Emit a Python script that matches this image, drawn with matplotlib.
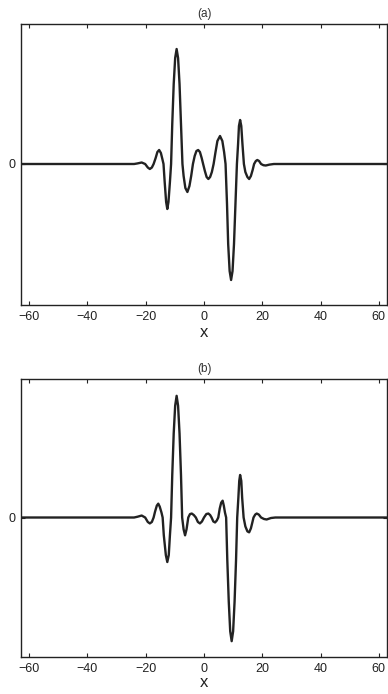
import numpy as np
import matplotlib.pyplot as plt

plt.rcParams['font.family'] = ['Liberation Sans', 'DejaVu Sans']

# ---- data (y in arbitrary units, 0 = baseline) ----
x_a = [-62.83, -24.0, -22.8, -21.4, -20.2, -19.3, -18.6, -17.9, -17.3, -16.6,
       -16.0, -15.4, -14.8, -14.3, -13.9, -13.5, -13.0, -12.6, -12.2, -11.7,
       -11.3, -10.9, -10.4, -9.9, -9.4, -8.9, -8.4, -7.9, -7.4, -7.0,
       -6.4, -5.7, -5.0, -4.4, -3.8, -3.2, -2.6, -2.0, -1.4, -0.8,
       -0.3, 0.3, 0.9, 1.5, 2.1, 2.7, 3.3, 3.9, 4.6, 5.5,
       6.3, 6.9, 7.4, 7.9, 8.3, 8.8, 9.3, 9.8, 10.3, 10.8,
       11.3, 11.7, 12.0, 12.4, 12.8, 13.2, 13.7, 14.2, 14.9, 15.5,
       16.1, 16.7, 17.2, 17.8, 18.3, 18.9, 19.6, 20.4, 21.2, 22.5,
       24.0, 62.83]
y_a = [0.0, 0.0, 0.006, 0.015, 0.0, -0.035, -0.05, -0.035, 0.0, 0.06,
       0.12, 0.14, 0.11, 0.05, 0.0, -0.18, -0.38, -0.45, -0.38, -0.18,
       0.0, 0.40, 0.80, 1.06, 1.15, 1.06, 0.80, 0.40, 0.0, -0.12,
       -0.24, -0.28, -0.22, -0.12, 0.0, 0.08, 0.13, 0.14, 0.12, 0.06,
       0.0, -0.07, -0.13, -0.15, -0.13, -0.08, 0.0, 0.11, 0.23, 0.28,
       0.23, 0.12, 0.0, -0.40, -0.80, -1.07, -1.16, -1.07, -0.80, -0.40,
       0.0, 0.20, 0.38, 0.44, 0.38, 0.20, 0.0, -0.08, -0.13, -0.15,
       -0.12, -0.06, 0.0, 0.03, 0.04, 0.03, 0.0, -0.012, -0.015, -0.006,
       0.0, 0.0]

x_b = [-62.83, -24.0, -22.8, -21.4, -20.2, -19.3, -18.6, -17.9, -17.3, -16.8,
       -16.2, -15.7, -15.2, -14.6, -14.2, -13.8, -13.1, -12.6, -12.1, -11.7,
       -11.3, -10.9, -10.4, -9.9, -9.4, -8.9, -8.4, -7.9, -7.5, -7.0,
       -6.5, -6.0, -5.4, -4.8, -4.2, -3.5, -2.8, -2.1, -1.4, -0.7,
       0.0, 0.8, 1.5, 2.1, 2.6, 3.2, 3.8, 4.4, 4.9, 5.4,
       5.9, 6.4, 6.8, 7.2, 7.6, 8.0, 8.5, 9.0, 9.5, 10.0,
       10.5, 11.0, 11.4, 11.8, 12.1, 12.4, 12.8, 13.1, 13.6, 14.2,
       14.9, 15.5, 16.1, 16.6, 17.0, 17.6, 18.1, 18.8, 19.6, 20.6,
       21.5, 23.0, 24.5, 62.83]
y_b = [0.0, 0.0, 0.008, 0.02, 0.0, -0.045, -0.06, -0.045, 0.0, 0.06,
       0.12, 0.14, 0.11, 0.05, 0.0, -0.18, -0.38, -0.45, -0.38, -0.18,
       0.0, 0.43, 0.85, 1.13, 1.23, 1.13, 0.85, 0.43, 0.0, -0.12,
       -0.18, -0.12, 0.0, 0.035, 0.04, 0.025, 0.0, -0.045, -0.06, -0.04,
       0.0, 0.035, 0.04, 0.025, 0.0, -0.04, -0.05, -0.03, 0.0, 0.09,
       0.15, 0.17, 0.12, 0.05, 0.0, -0.43, -0.85, -1.15, -1.25, -1.15,
       -0.85, -0.43, 0.0, 0.20, 0.37, 0.43, 0.37, 0.20, 0.0, -0.09,
       -0.14, -0.15, -0.11, -0.05, 0.0, 0.03, 0.04, 0.03, 0.0, -0.015,
       -0.02, -0.005, 0.0, 0.0]

xticks = [-60, -40, -20, 0, 20, 40, 60]
panels = [('(a)', x_a, y_a, 2), ('(b)', x_b, y_b, 0)]

fig = plt.figure(figsize=(3.88, 6.94), dpi=100)
rects = [[21/388, 1-305/694, 366/388, 281/694],
         [21/388, 1-657/694, 366/388, 278/694]]

for rect, (title, xs, ys, lp) in zip(rects, panels):
    ax = fig.add_axes(rect)
    ax.plot(xs, ys, color='#222222', lw=1.7, solid_joinstyle='round')
    ax.set_xlim(-62.83, 62.83)
    ax.set_ylim(-1.41, 1.40)
    ax.set_xticks(xticks)
    ax.set_yticks([0])
    ax.tick_params(direction='in', length=3, width=0.8, labelsize=9, colors='#222222',
                   top=True, right=True, pad=4)
    for s in ax.spines.values():
        s.set_linewidth(1.0)
        s.set_color('#222222')
    ax.set_title(title, fontsize=8.5, color='#333333', pad=5)
    ax.set_xlabel('x', fontsize=12, color='#222222', labelpad=lp)

fig.savefig('out.png', dpi=100)
